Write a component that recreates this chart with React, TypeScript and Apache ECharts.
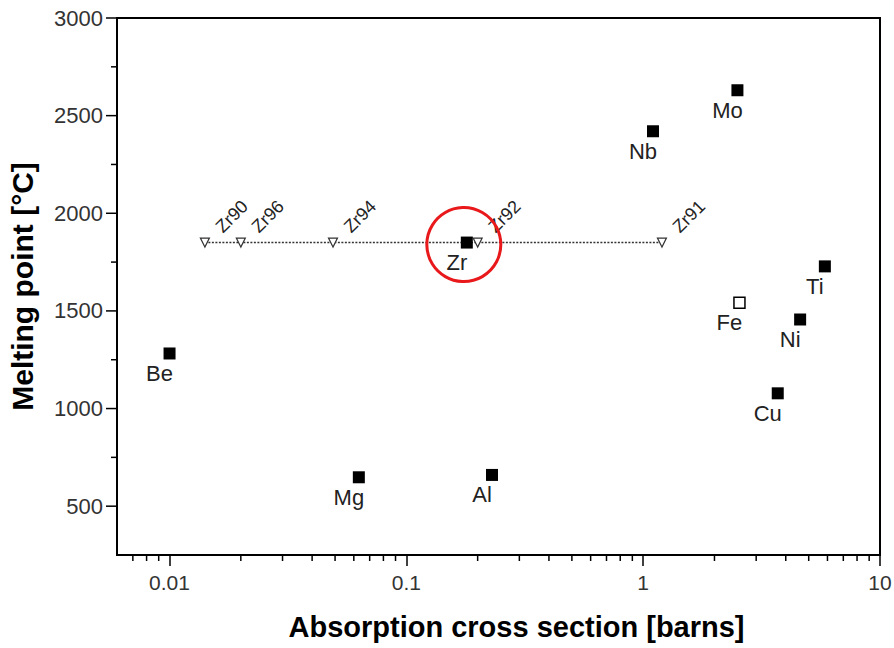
import React, { useEffect, useRef } from "react";
import * as echarts from "echarts";

const elementNames = ["Be", "Mg", "Al", "Zr", "Nb", "Mo", "Ti", "Ni", "Cu"];
const elementCrossSections = [0.01, 0.063, 0.23, 0.18, 1.1, 2.5, 5.85, 4.6, 3.7];
const elementMeltingPoints = [1282, 648, 660, 1850, 2420, 2630, 1728, 1456, 1078];

const ironName = ["Fe"];
const ironCrossSection = [2.55];
const ironMeltingPoint = [1542];

const isotopeNames = ["Zr90", "Zr96", "Zr94", "Zr92", "Zr91"];
const isotopeCrossSections = [0.0141, 0.02, 0.049, 0.2, 1.2];
const isotopeMeltingPoints = [1850, 1850, 1850, 1850, 1850];

const xMinorTicks = [0.007, 0.008, 0.009, 0.02, 0.03, 0.04, 0.05, 0.06, 0.07, 0.08, 0.09, 0.2, 0.3, 0.4, 0.5, 0.6, 0.7, 0.8, 0.9, 2, 3, 4, 5, 6, 7, 8, 9];
const yTickValues = [500, 750, 1000, 1250, 1500, 1750, 2000, 2250, 2500, 2750, 3000];

const X_MIN = 0.006;
const X_MAX = 10;
const Y_MIN = 250;
const Y_MAX = 3000;

const FONT = "'Liberation Sans', Arial, sans-serif";

export default function App() {
  const ref = useRef<HTMLDivElement>(null);
  useEffect(() => {
    if (!ref.current) return;
    const chart = echarts.init(ref.current, null, { renderer: "svg" });

    const elementData = elementNames.map((n, i) => ({ name: n, value: [elementCrossSections[i], elementMeltingPoints[i]] }));
    const ironData = ironName.map((n, i) => ({ name: n, value: [ironCrossSection[i], ironMeltingPoint[i]] }));
    const isoData = isotopeNames.map((n, i) => ({ name: n, value: [isotopeCrossSections[i], isotopeMeltingPoints[i]] }));
    const zrIndex = elementNames.indexOf("Zr");

    const elementLabel = {
      show: true,
      formatter: "{b}",
      position: "bottom",
      offset: [-10, -2],
      fontSize: 22,
      color: "#222",
      fontFamily: FONT,
    };

    chart.setOption({
      animation: false,
      backgroundColor: "#fff",
      grid: {
        left: 117,
        right: 14,
        top: 18,
        bottom: 93,
        show: true,
        borderColor: "#000",
        borderWidth: 2,
        outerBoundsMode: "none",
      },
      xAxis: {
        type: "log",
        logBase: 10,
        min: X_MIN,
        max: X_MAX,
        name: "Absorption cross section [barns]",
        nameLocation: "middle",
        nameGap: 57,
        nameTextStyle: { fontSize: 29, fontWeight: "bold", color: "#000", fontFamily: FONT, padding: [0, 0, 0, 36] },
        axisLine: { lineStyle: { color: "#000", width: 2 } },
        axisTick: { show: true, length: 11, lineStyle: { color: "#000", width: 1.5 } },
        axisLabel: {
          showMinLabel: false,
          fontSize: 21,
          color: "#333",
          fontFamily: FONT,
          margin: 17,
          formatter: (v: number) => String(v),
        },
        splitLine: { show: false },
      },
      yAxis: {
        type: "value",
        min: Y_MIN,
        max: Y_MAX,
        interval: 250,
        name: "Melting point [°C]",
        nameLocation: "middle",
        nameGap: 80,
        nameTextStyle: { fontSize: 30, fontWeight: "bold", color: "#000", fontFamily: FONT },
        axisLine: { lineStyle: { color: "#000", width: 2 } },
        axisTick: { show: false },
        axisLabel: {
          fontSize: 22,
          color: "#333",
          fontFamily: FONT,
          margin: 14,
          formatter: (v: number) => (v % 500 === 0 ? String(v) : ""),
        },
        splitLine: { show: false },
      },
      series: [
        {
          type: "custom",
          name: "xMinor",
          silent: true,
          clip: false,
          data: xMinorTicks.map((v) => [v, Y_MIN]),
          renderItem: (params: any, api: any) => {
            const p = api.coord([api.value(0), api.value(1)]);
            return {
              type: "line",
              shape: { x1: p[0], y1: p[1], x2: p[0], y2: p[1] + 6 },
              style: { stroke: "#000", lineWidth: 1.5 },
            };
          },
        },
        {
          type: "custom",
          name: "yTicks",
          silent: true,
          clip: false,
          data: yTickValues.map((v) => [X_MIN, v]),
          renderItem: (params: any, api: any) => {
            const v = api.value(1);
            const p = api.coord([api.value(0), v]);
            const len = v % 500 === 0 ? 11 : 6;
            return {
              type: "line",
              shape: { x1: p[0], y1: p[1], x2: p[0] - len, y2: p[1] },
              style: { stroke: "#000", lineWidth: 1.5 },
            };
          },
        },
        {
          type: "line",
          name: "isotopes",
          data: isoData,
          symbol: "triangle",
          symbolRotate: 180,
          symbolSize: 9,
          showSymbol: true,
          lineStyle: { color: "#333", width: 1.5, type: [2, 1.5] },
          itemStyle: { color: "#fff", borderColor: "#333", borderWidth: 1.2 },
          label: {
            show: true,
            formatter: "{b}",
            position: [19, -8],
            rotate: 45,
            align: "left",
            verticalAlign: "middle",
            fontSize: 18,
            color: "#222",
            fontFamily: FONT,
          },
          z: 3,
        },
        {
          type: "scatter",
          name: "elements",
          data: elementData,
          symbol: "rect",
          symbolSize: 12,
          itemStyle: { color: "#000", opacity: 1 },
          label: elementLabel,
          z: 4,
        },
        {
          type: "scatter",
          name: "iron",
          data: ironData,
          symbol: "rect",
          symbolSize: 11,
          itemStyle: { color: "#fff", borderColor: "#000", borderWidth: 1.5, opacity: 1 },
          label: elementLabel,
          z: 4,
        },
        {
          type: "scatter",
          name: "highlight",
          silent: true,
          data: [[elementCrossSections[zrIndex], elementMeltingPoints[zrIndex]]],
          symbol: "circle",
          symbolSize: 74,
          symbolOffset: [-3, 2],
          itemStyle: { color: "rgba(0,0,0,0)", borderColor: "#e8181b", borderWidth: 3, opacity: 1 },
          z: 5,
        },
      ],
    });
    return () => chart.dispose();
  }, []);
  return <div ref={ref} style={{ width: 894, height: 648, position: "absolute", left: 0, top: 0 }} />;
}
